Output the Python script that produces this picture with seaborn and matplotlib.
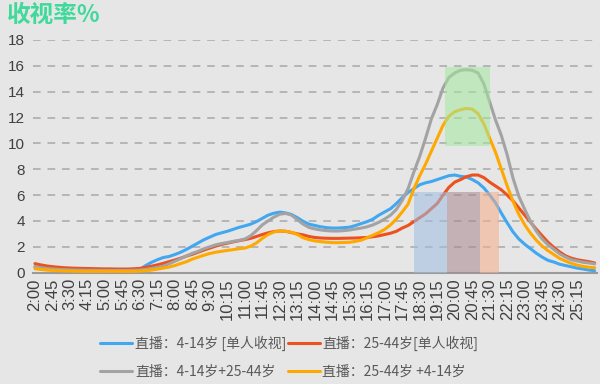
import numpy as np
import pandas as pd
import matplotlib
matplotlib.use("Agg")
import matplotlib.pyplot as plt
import seaborn as sns
from matplotlib.patches import Rectangle

# minutes after 2:00, one reading every 15 minutes (2:00 .. 26:00)
minutes = list(range(0, 1441, 15))

kids_single = [
    0.45, 0.40, 0.35, 0.30, 0.27, 0.25, 0.22, 0.20,
    0.19, 0.18, 0.17, 0.16, 0.16, 0.15, 0.15, 0.15,
    0.16, 0.18, 0.25, 0.55, 0.80, 1.00, 1.17, 1.25,
    1.40, 1.58, 1.80, 2.05, 2.30, 2.55, 2.75, 2.95,
    3.08, 3.20, 3.35, 3.50, 3.62, 3.75, 3.95, 4.20,
    4.45, 4.60, 4.68, 4.62, 4.50, 4.25, 3.97, 3.75,
    3.65, 3.55, 3.48, 3.45, 3.45, 3.48, 3.52, 3.65,
    3.80, 3.95, 4.15, 4.45, 4.70, 4.95, 5.35, 5.80,
    6.20, 6.50, 6.80, 6.95, 7.05, 7.20, 7.35, 7.50,
    7.55, 7.45, 7.40, 7.20, 6.95, 6.55, 6.00, 5.40,
    4.60, 3.85, 3.15, 2.60, 2.20, 1.85, 1.50, 1.20,
    0.95, 0.82, 0.65, 0.55, 0.45, 0.35, 0.28, 0.20,
    0.15,
]
adult_single = [
    0.70, 0.60, 0.52, 0.46, 0.42, 0.38, 0.36, 0.34,
    0.33, 0.32, 0.31, 0.30, 0.29, 0.29, 0.28, 0.28,
    0.28, 0.30, 0.33, 0.40, 0.50, 0.60, 0.72, 0.85,
    0.98, 1.12, 1.28, 1.42, 1.58, 1.75, 1.90, 2.05,
    2.18, 2.28, 2.38, 2.47, 2.55, 2.65, 2.80, 2.95,
    3.08, 3.18, 3.22, 3.20, 3.10, 3.00, 2.92, 2.80,
    2.72, 2.68, 2.66, 2.65, 2.65, 2.66, 2.67, 2.68,
    2.70, 2.72, 2.78, 2.85, 2.95, 3.05, 3.20, 3.45,
    3.65, 3.95, 4.25, 4.55, 4.95, 5.35, 6.00, 6.60,
    7.00, 7.20, 7.42, 7.55, 7.55, 7.35, 7.00, 6.70,
    6.40, 6.00, 5.55, 5.00, 4.45, 3.90, 3.35, 2.85,
    2.35, 1.95, 1.60, 1.30, 1.12, 1.00, 0.92, 0.85,
    0.75,
]
kids_with_adult = [
    0.45, 0.38, 0.32, 0.28, 0.25, 0.23, 0.21, 0.20,
    0.19, 0.18, 0.18, 0.17, 0.17, 0.17, 0.17, 0.17,
    0.17, 0.18, 0.20, 0.25, 0.32, 0.40, 0.50, 0.68,
    0.88, 1.08, 1.30, 1.50, 1.65, 1.85, 2.00, 2.15,
    2.25, 2.33, 2.42, 2.50, 2.60, 2.85, 3.25, 3.70,
    4.00, 4.30, 4.52, 4.58, 4.45, 4.10, 3.75, 3.50,
    3.38, 3.30, 3.25, 3.22, 3.22, 3.25, 3.30, 3.38,
    3.45, 3.55, 3.70, 3.90, 4.15, 4.45, 4.90, 5.60,
    6.50, 7.80, 9.00, 10.40, 11.90, 13.00, 14.30, 15.10,
    15.45, 15.65, 15.70, 15.65, 15.45, 14.60, 13.20, 11.80,
    10.60, 9.10, 7.30, 5.90, 4.90, 3.95, 3.20, 2.60,
    2.15, 1.80, 1.45, 1.20, 1.00, 0.90, 0.80, 0.75,
    0.68,
]
adult_with_kids = [
    0.30, 0.25, 0.20, 0.17, 0.15, 0.13, 0.12, 0.11,
    0.10, 0.10, 0.10, 0.10, 0.10, 0.10, 0.10, 0.10,
    0.10, 0.10, 0.12, 0.15, 0.20, 0.27, 0.35, 0.43,
    0.55, 0.70, 0.85, 1.05, 1.20, 1.35, 1.48, 1.58,
    1.65, 1.72, 1.78, 1.85, 1.90, 2.05, 2.30, 2.65,
    2.95, 3.15, 3.22, 3.20, 3.12, 2.95, 2.70, 2.55,
    2.45, 2.40, 2.35, 2.32, 2.32, 2.33, 2.35, 2.42,
    2.52, 2.70, 2.90, 3.10, 3.35, 3.70, 4.15, 4.70,
    5.30, 6.50, 7.50, 8.40, 9.40, 10.40, 11.40, 12.10,
    12.45, 12.60, 12.70, 12.65, 12.30, 11.50, 10.40, 9.30,
    8.00, 6.70, 5.50, 4.50, 3.70, 3.05, 2.50, 2.05,
    1.70, 1.40, 1.10, 0.90, 0.72, 0.58, 0.48, 0.42,
    0.38,
]

series_names = ["直播：4-14岁 [单人收视]", "直播：25-44岁[单人收视]",
                "直播：4-14岁+25-44岁", "直播：25-44岁 +4-14岁"]
series_colors = ["#41a7f0", "#ec5120", "#a3a3a3", "#ffa800"]

# highlighted time bands: (start min, end min, low, high, colour)
bands = [
    (975, 1060, 0, 6.25, "#9fbde2"),
    (1060, 1145, 0, 6.25, "#a98690"),
    (1145, 1195, 0, 6.25, "#f6ad88"),
    (1055, 1170, 9.8, 15.9, "#a4e8a0"),
]

tick_minutes = list(range(0, 1396, 45))
tick_labels = [f"{2 + m // 60}:{m % 60:02d}" for m in tick_minutes]

df = pd.DataFrame({
    "minute": minutes * 4,
    "value": kids_single + adult_single + kids_with_adult + adult_with_kids,
    "series": sum([[n] * len(minutes) for n in series_names], []),
})

sns.set_theme(style="white")
plt.rcParams["font.family"] = ["Liberation Sans", "Noto Sans CJK SC", "DejaVu Sans"]
bg = "#e6e6e6"

fig = plt.figure(figsize=(6, 3.84), dpi=100, facecolor=bg)
ax = fig.add_axes([0.055, 0.29, 0.94, 0.606])
ax.set_facecolor(bg)

sns.lineplot(data=df, x="minute", y="value", hue="series", hue_order=series_names,
             palette=series_colors, linewidth=2.2, ax=ax, legend=False, zorder=3)

for x0, x1, y0, y1, c in bands:
    ax.add_patch(Rectangle((x0, y0), x1 - x0, y1 - y0, facecolor=c, alpha=0.55,
                           edgecolor="none", zorder=4))

ax.set_xlim(-5, 1446)
ax.set_ylim(0, 18)
ax.set_yticks(range(0, 19, 2))
ax.set_xticks(tick_minutes)
ax.set_xticklabels(tick_labels, rotation=90)
ax.tick_params(axis="x", labelsize=12, colors="#404040", length=0, pad=4)
ax.tick_params(axis="y", labelsize=11, colors="#404040", length=0, pad=6)
for y in range(2, 19, 2):
    ax.axhline(y, color="#a8a8a8", linewidth=1.1, linestyle=(0, (5, 4.5)), zorder=1)
for s in ["top", "right", "left"]:
    ax.spines[s].set_visible(False)
ax.spines["bottom"].set_color("#9a9a9a")
ax.spines["bottom"].set_linewidth(1.5)
ax.set_xlabel("")
ax.set_ylabel("")

fig.text(0.011, 0.943, "收视率%", color="#3fd99a", fontsize=17, fontweight="bold",
         family=["Noto Sans CJK SC", "DejaVu Sans"])

handles = [plt.Line2D([], [], color=c, linewidth=2.2) for c in series_colors]
order = [0, 2, 1, 3]
leg = fig.legend([handles[i] for i in order], [series_names[i] for i in order],
                 ncol=2, loc="upper left", bbox_to_anchor=(0.167, 0.127),
                 frameon=False, handlelength=2.3, handletextpad=0.2,
                 columnspacing=0.1, labelspacing=1.0, borderpad=0, borderaxespad=0,
                 prop={"family": ["Noto Sans CJK SC", "DejaVu Sans"], "size": 10})
for t in leg.get_texts():
    t.set_color("#595959")

fig.savefig("out.png", dpi=100, facecolor=bg)
